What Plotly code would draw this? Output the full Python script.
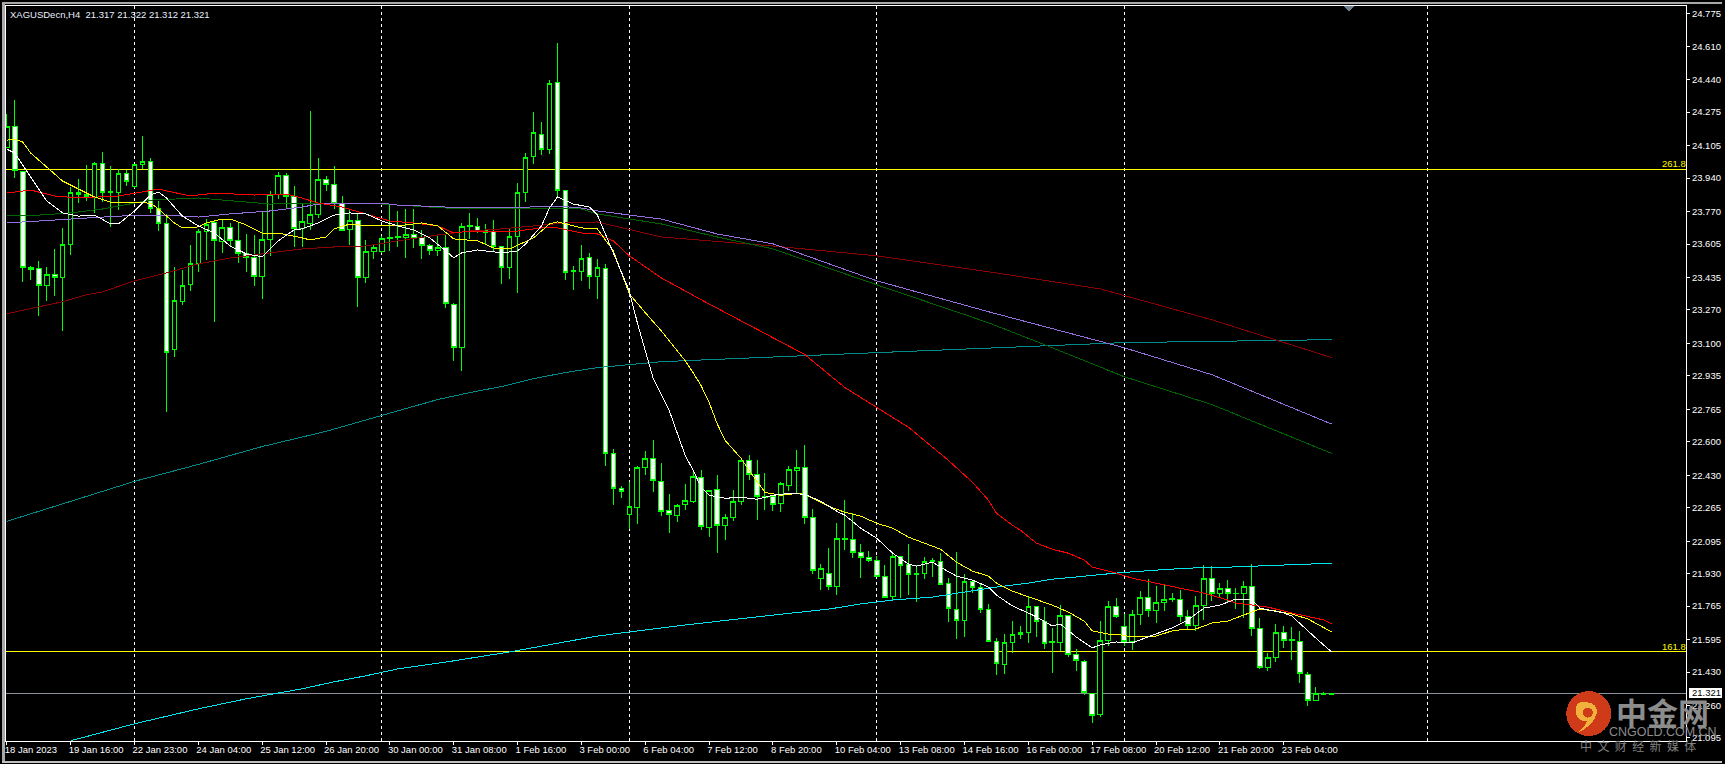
import plotly.graph_objects as go

opens = [24.097,24.202,23.976,23.485,23.482,23.396,23.452,23.435,23.604,23.868,23.859,23.840,24.015,23.874,23.866,23.964,23.896,24.010,24.025,23.787,
23.710,23.067,23.313,23.401,23.506,23.668,23.712,23.617,23.690,23.624,23.558,23.538,23.442,23.629,23.857,23.952,23.847,23.682,23.708,23.756,
23.933,23.908,23.812,23.678,23.726,23.435,23.569,23.567,23.637,23.641,23.637,23.653,23.637,23.597,23.572,23.587,23.300,23.080,23.697,23.695,
23.663,23.670,23.594,23.487,23.645,23.868,24.048,24.162,24.086,24.425,23.878,23.469,23.467,23.538,23.442,23.479,22.540,22.362,22.233,22.264,
22.467,22.514,22.398,22.251,22.223,22.279,22.299,22.418,22.167,22.357,22.173,22.213,22.296,22.504,22.433,22.323,22.322,22.284,22.380,22.456,
22.469,22.215,21.907,21.931,21.863,22.110,22.104,22.038,22.010,21.997,21.916,21.813,22.017,21.977,21.930,21.929,21.996,21.992,21.881,21.749,
21.691,21.891,21.860,21.749,21.587,21.470,21.582,21.620,21.630,21.764,21.688,21.583,21.580,21.718,21.521,21.485,21.321,21.214,21.590,21.764,
21.663,21.585,21.721,21.810,21.742,21.782,21.804,21.799,21.711,21.666,21.769,21.906,21.828,21.855,21.831,21.828,21.865,21.652,21.453,21.503,
21.632,21.593,21.587,21.419,21.285,21.320,21.317]
closes = [24.204,23.979,23.485,23.478,23.396,23.452,23.435,23.604,23.868,23.855,23.849,24.015,23.866,23.869,23.964,23.921,24.010,24.026,23.787,23.710,
23.055,23.317,23.396,23.508,23.670,23.705,23.622,23.690,23.624,23.558,23.538,23.442,23.629,23.857,23.952,23.847,23.685,23.722,23.756,23.933,
23.908,23.810,23.675,23.726,23.437,23.569,23.589,23.634,23.631,23.636,23.653,23.634,23.599,23.572,23.587,23.305,23.077,23.695,23.692,23.670,
23.675,23.592,23.487,23.645,23.868,24.045,24.172,24.086,24.420,23.878,23.462,23.464,23.533,23.442,23.487,22.540,22.362,22.347,22.271,22.469,
22.514,22.403,22.246,22.230,22.276,22.301,22.423,22.170,22.352,22.173,22.215,22.296,22.504,22.436,22.320,22.318,22.279,22.387,22.458,22.469,
22.213,21.948,21.958,21.863,22.109,22.105,22.036,22.010,21.995,21.914,21.810,22.017,21.970,21.924,21.925,21.992,21.991,21.877,21.752,21.691,
21.891,21.858,21.749,21.585,21.475,21.582,21.622,21.632,21.764,21.686,21.576,21.578,21.718,21.519,21.490,21.326,21.211,21.592,21.764,21.710,
21.585,21.721,21.810,21.742,21.784,21.799,21.798,21.711,21.666,21.769,21.906,21.828,21.855,21.828,21.828,21.865,21.652,21.453,21.505,21.632,
21.592,21.588,21.422,21.285,21.323,21.318,21.321]
highs = [24.264,24.339,23.976,23.494,23.519,23.489,23.582,23.687,23.895,23.935,24.006,24.021,24.072,24.001,23.986,23.981,24.011,24.153,24.041,23.824,
23.758,23.489,23.475,23.600,23.683,23.732,23.722,23.732,23.712,23.713,23.656,23.651,23.769,23.874,23.970,23.965,23.899,23.815,24.283,24.041,
23.950,24.001,23.849,23.783,23.764,23.624,23.604,23.646,23.803,23.773,23.783,23.783,23.677,23.605,23.651,23.655,23.303,23.712,23.763,23.736,
23.705,23.726,23.595,23.688,23.913,24.070,24.275,24.224,24.440,24.629,23.879,23.493,23.600,23.560,23.528,23.504,22.565,22.374,22.394,22.475,
22.551,22.611,22.494,22.337,22.283,22.384,22.455,22.455,22.353,22.430,22.235,22.353,22.516,22.531,22.506,22.443,22.328,22.394,22.475,22.556,
22.585,22.261,21.978,22.059,22.188,22.303,22.238,22.080,22.044,22.019,21.973,22.034,22.019,22.080,21.973,22.014,22.009,22.034,21.906,22.039,
21.928,21.892,21.877,21.776,21.602,21.624,21.689,21.664,21.809,21.765,21.759,21.652,21.771,21.720,21.546,21.492,21.325,21.689,21.789,21.806,
21.723,21.745,21.842,21.901,21.867,21.872,21.833,21.846,21.745,21.816,21.973,21.968,21.884,21.897,21.857,21.892,21.978,21.703,21.529,21.673,
21.664,21.661,21.639,21.429,21.355,21.330,21.322]
lows = [24.097,23.942,23.413,23.423,23.241,23.317,23.342,23.161,23.551,23.815,23.824,23.764,23.820,23.693,23.778,23.899,23.889,23.986,23.764,23.671,
22.750,23.029,23.296,23.367,23.465,23.523,23.207,23.560,23.595,23.511,23.465,23.393,23.325,23.545,23.834,23.788,23.592,23.590,23.675,23.739,
23.874,23.781,23.671,23.600,23.286,23.409,23.531,23.560,23.570,23.590,23.536,23.587,23.531,23.550,23.545,23.281,23.012,22.962,23.632,23.663,
23.604,23.570,23.404,23.428,23.354,23.820,24.013,24.057,24.063,23.840,23.423,23.372,23.418,23.379,23.328,22.475,22.277,22.314,22.159,22.181,
22.430,22.345,22.222,22.137,22.191,22.252,22.289,22.151,22.117,22.036,22.100,22.198,22.277,22.404,22.201,22.252,22.247,22.242,22.348,22.337,
22.181,21.928,21.847,21.847,21.821,22.049,22.012,21.909,21.987,21.912,21.806,21.796,21.805,21.821,21.787,21.902,21.914,21.872,21.686,21.598,
21.610,21.833,21.731,21.583,21.416,21.421,21.529,21.600,21.580,21.610,21.549,21.427,21.537,21.508,21.436,21.311,21.171,21.204,21.563,21.706,
21.563,21.542,21.669,21.711,21.681,21.740,21.787,21.686,21.644,21.639,21.695,21.792,21.805,21.787,21.752,21.706,21.615,21.446,21.436,21.483,
21.554,21.492,21.374,21.255,21.284,21.316,21.312]

white_x = [0,1,3,5,7,9,11,13,14,16,18,19,20,22,24,26,28,30,32,34,36,37,39,41,43,45,47,49,51,53,55,56,57,59,62,64,65,67,68,69,71,73,74,76,78,79,81,83,85,86,87,88,90,92,94,96,98,100,102,104,105,107,109,111,113,114,116,117,119,121,123,124,126,128,129,131,132,134,136,137,139,141,143,146,148,150,152,154,156,157,160,161,164,166]
white_y = [24.087,24.067,23.945,23.824,23.763,23.747,23.752,23.707,23.707,23.773,23.854,23.869,23.839,23.747,23.697,23.661,23.595,23.555,23.540,23.621,23.677,23.682,23.712,23.752,23.763,23.758,23.722,23.697,23.677,23.636,23.570,23.535,23.560,23.575,23.560,23.570,23.605,23.697,23.788,23.844,23.808,23.793,23.752,23.555,23.367,23.205,22.921,22.759,22.531,22.455,22.369,22.328,22.313,22.318,22.308,22.328,22.338,22.333,22.298,22.247,22.227,22.161,22.110,22.034,21.978,21.968,21.988,21.963,21.917,21.897,21.862,21.821,21.766,21.730,21.710,21.664,21.674,21.608,21.553,21.568,21.583,21.578,21.608,21.654,21.695,21.755,21.770,21.801,21.796,21.755,21.730,21.715,21.603,21.532]

yellow_x = [0,1,2,3,5,7,9,11,13,16,18,19,21,22,24,25,27,28,30,32,34,37,38,40,41,43,45,49,52,54,55,56,59,61,63,66,68,69,72,74,76,78,80,82,84,85,86,87,88,89,90,92,93,95,97,99,100,103,105,107,109,111,113,115,117,119,121,123,124,126,128,129,131,133,135,136,138,139,141,144,146,147,149,151,153,155,157,159,161,163,165,166]
yellow_y = [24.133,24.138,24.123,24.067,23.996,23.925,23.884,23.844,23.818,23.813,23.813,23.783,23.712,23.687,23.692,23.712,23.732,23.732,23.702,23.661,23.661,23.636,23.626,23.641,23.682,23.707,23.697,23.697,23.712,23.697,23.666,23.631,23.621,23.585,23.580,23.636,23.707,23.717,23.687,23.682,23.570,23.352,23.256,23.164,23.063,23.012,22.951,22.885,22.800,22.693,22.607,22.516,22.455,22.343,22.328,22.338,22.333,22.272,22.242,22.222,22.186,22.161,22.115,22.085,22.054,21.988,21.943,21.917,21.882,21.841,21.811,21.796,21.770,21.735,21.689,21.639,21.623,21.623,21.608,21.613,21.639,21.644,21.649,21.679,21.689,21.720,21.750,21.740,21.725,21.700,21.654,21.634]

red_x = [0,3,6,9,14,18,19,23,26,31,35,37,39,42,45,48,51,54,56,58,64,67,69,72,74,76,78,82,87,93,100,105,109,113,118,121,123,124,126,127,129,131,133,135,136,139,141,144,147,150,153,154,158,161,165,166]
red_y = [23.864,23.879,23.849,23.839,23.849,23.879,23.884,23.849,23.864,23.854,23.859,23.839,23.813,23.793,23.758,23.722,23.712,23.697,23.661,23.671,23.671,23.687,23.687,23.661,23.656,23.621,23.545,23.433,23.322,23.195,23.043,22.876,22.774,22.673,22.505,22.394,22.303,22.237,22.176,22.151,22.085,22.054,22.034,21.999,21.963,21.933,21.907,21.882,21.857,21.831,21.796,21.781,21.760,21.730,21.695,21.674]

green_x = [0,4,8,12,16,18,24,28,33,37,45,49,55,62,66,70,72,74,82,89,96,109,123,130,140,151,158,166]
green_y = [23.752,23.752,23.763,23.783,23.813,23.828,23.839,23.824,23.808,23.813,23.813,23.803,23.788,23.783,23.783,23.788,23.783,23.758,23.707,23.641,23.580,23.398,23.205,23.094,22.931,22.789,22.673,22.541]

purple_x = [0,4,8,14,20,24,28,33,37,39,42,47,49,55,62,66,69,72,74,82,89,96,109,123,140,151,158,166]
purple_y = [23.712,23.722,23.732,23.747,23.752,23.742,23.758,23.773,23.793,23.808,23.813,23.813,23.803,23.793,23.788,23.793,23.798,23.788,23.773,23.732,23.656,23.606,23.418,23.261,23.078,22.941,22.825,22.690]

maroon_x = [0,4,7,10,12,16,20,24,28,33,37,41,45,49,54,58,62,66,70,74,82,96,109,123,137,151,166]
maroon_y = [23.251,23.286,23.312,23.347,23.362,23.418,23.458,23.504,23.534,23.560,23.580,23.590,23.595,23.621,23.651,23.671,23.682,23.697,23.712,23.717,23.641,23.595,23.545,23.464,23.377,23.220,23.028]

teal_x = [0,8,16,24,32,40,47,54,58,62,66,70,74,79,82,109,140,166]
teal_y = [22.196,22.298,22.399,22.485,22.576,22.653,22.734,22.815,22.850,22.881,22.921,22.952,22.977,22.997,23.007,23.053,23.104,23.119]

cyan_x = [8,16,24,30,37,41,45,49,56,63,74,85,95,103,107,111,116,120,124,128,131,135,139,144,148,153,166]
cyan_y = [21.081,21.167,21.243,21.294,21.345,21.380,21.411,21.446,21.487,21.532,21.613,21.669,21.715,21.750,21.776,21.796,21.811,21.836,21.862,21.882,21.902,21.917,21.933,21.948,21.958,21.963,21.983]

price_ticks = ["24.775","24.610","24.440","24.275","24.105","23.940","23.770","23.605","23.435","23.270","23.100","22.935","22.765","22.600","22.430","22.265","22.095","21.930","21.765","21.595","21.430","21.260","21.095"]
date_ticks = ["18 Jan 2023","19 Jan 16:00","22 Jan 23:00","24 Jan 04:00","25 Jan 12:00","26 Jan 20:00","30 Jan 00:00","31 Jan 08:00","1 Feb 16:00","3 Feb 00:00","6 Feb 04:00","7 Feb 12:00","8 Feb 20:00","10 Feb 04:00","13 Feb 08:00","14 Feb 16:00","16 Feb 00:00","17 Feb 08:00","20 Feb 12:00","21 Feb 20:00","23 Feb 04:00"]
date_tick_bars = [0,8,16,24,32,40,48,56,64,72,80,88,96,104,112,120,128,136,144,152,160]
separator_bars = [16,47,78,109,140,178]
fib_levels = [("261.8",23.984),("161.8",21.532)]
last_price = 21.321
bars = list(range(len(opens)))

W,H = 1725,764
L,R,T,B = 4.5,1688.5,4.5,741.5
fx = lambda p:(p-L)/(R-L)
fy = lambda p:(B-p)/(B-T)
FONT = "Liberation Sans"

fig = go.Figure()
for name,xs,ys,col,w in [("MA teal",teal_x,teal_y,"#008b8b",1),("MA maroon",maroon_x,maroon_y,"#8b0000",1),
                         ("MA green",green_x,green_y,"#006400",1),("MA purple",purple_x,purple_y,"#9370db",1),
                         ("MA cyan",cyan_x,cyan_y,"#00e5ee",1),("MA red",red_x,red_y,"#ff0000",1),
                         ("MA yellow",yellow_x,yellow_y,"#ffff00",1),("MA white",white_x,white_y,"#ffffff",1)]:
    fig.add_trace(go.Scatter(x=xs,y=ys,mode="lines",name=name,line=dict(color=col,width=w),hoverinfo="skip"))
fig.add_trace(go.Candlestick(x=bars,open=opens,high=highs,low=lows,close=closes,name="XAGUSDecn,H4",whiskerwidth=0,
    increasing=dict(line=dict(color="#00ff00",width=1),fillcolor="#000000"),
    decreasing=dict(line=dict(color="#00ff00",width=1),fillcolor="#ffffff")))

shapes=[]
for k in separator_bars:
    shapes.append(dict(type="line",xref="x",yref="paper",x0=k,x1=k,y0=0,y1=1,layer="below",line=dict(color="#ffffff",width=1,dash="3px,3px")))
for _,v in fib_levels:
    shapes.append(dict(type="line",xref="paper",yref="y",x0=0,x1=1,y0=v,y1=v,layer="below",line=dict(color="#ffff00",width=1)))
shapes.append(dict(type="line",xref="paper",yref="y",x0=0,x1=1,y0=last_price,y1=last_price,layer="below",line=dict(color="#8a9099",width=1)))

def rect(x0,y0,x1,y1,c):
    return dict(type="rect",xref="paper",yref="paper",x0=fx(x0),x1=fx(x1),y0=fy(y0),y1=fy(y1),fillcolor=c,line=dict(width=0),layer="above")
shapes += [rect(0,0,3,764,"#a8a8a8"),rect(0,0,1725,2,"#a8a8a8"),rect(0,762,1725,764,"#c0c0c0"),rect(1692,688,1725,698,"#ffffff")]
def path(pts,fill):
    s=""
    for cmd,*c in pts:
        s+=cmd+" "+" ".join(f"{fx(c[i]):.5f},{fy(c[i+1]):.5f}" for i in range(0,len(c),2))+" "
    return dict(type="path",xref="paper",yref="paper",path=s+"Z",fillcolor=fill,line=dict(width=0),layer="above")
# expiry marker
shapes.append(path([("M",1346,5),("L",1355.5,5),("L",1350.7,10)],"#708090"))
# watermark logo
shapes.append(dict(type="circle",xref="paper",yref="paper",x0=fx(1568.5),x1=fx(1613.5),y0=fy(691.5),y1=fy(736.5),fillcolor="#cf3a18",line=dict(width=0),layer="above"))
shapes.append(path([("M",1578,711),("C",1577,704,1584,700,1589,703),("C",1596,702,1600,708,1599,714),("C",1597,722,1590,729,1580,733),
                    ("C",1585,729,1588,725,1590,721),("C",1584,723,1578,719,1578,711)],"#f0b23c"))
shapes.append(dict(type="circle",xref="paper",yref="paper",x0=fx(1585),x1=fx(1595),y0=fy(708),y1=fy(718),fillcolor="#cf3a18",line=dict(width=0),layer="above"))

def note(text,px,py,size,color,anchor="left",**kw):
    return dict(text=text,xref="paper",yref="paper",x=fx(px),y=fy(py),xanchor=anchor,yanchor="middle",showarrow=False,
                font=dict(family=kw.pop("family",FONT),size=size,color=color),**kw)
anns=[note("XAGUSDecn,H4&nbsp;&nbsp;21.317 21.322 21.312 21.321",6.5,12.7,9.5,"#e8f0ff"),
      note("261.8",1690.5,162.5,9.5,"#ffff00","right"),
      note("161.8",1690.5,646.5,9.5,"#ffff00","right"),
      note("21.321",1694,693,9.5,"#000000","left",borderpad=0),
      note("<b>中金网</b>",1665,712,31,"#8c8c8c","center",family="Noto Sans CJK SC"),
      note("CNGOLD.COM.CN",1665,732.5,12.5,"#8c8c8c","center"),
      note("中&nbsp;&nbsp;文&nbsp;&nbsp;财&nbsp;&nbsp;经&nbsp;&nbsp;新&nbsp;&nbsp;媒&nbsp;&nbsp;体",1640,746,12,"#808080","center",family="Noto Sans CJK SC")]

fig.update_layout(width=W,height=H,autosize=False,paper_bgcolor="#000000",plot_bgcolor="#000000",showlegend=False,
    margin=dict(l=L,r=W-R,t=T,b=H-B,pad=0),boxgap=0.42,boxgroupgap=0,shapes=shapes,annotations=anns,hovermode=False,
    font=dict(family=FONT,size=9.5,color="#ffffff"),
    xaxis=dict(range=[-0.1,210.4],rangeslider=dict(visible=False),tickmode="array",tickvals=date_tick_bars,ticktext=date_ticks,
        ticklabelposition="outside right",ticklabelshift=-3,tickangle=0,ticks="outside",ticklen=3,tickcolor="#ffffff",tickfont=dict(family=FONT,size=9.5,color="#ffffff"),
        showgrid=False,zeroline=False,showline=True,linecolor="#ffffff",linewidth=1,mirror=True,fixedrange=True),
    yaxis=dict(range=[21.0796,24.8145],side="right",tickmode="array",tickvals=[float(t) for t in price_ticks],ticktext=price_ticks,
        ticks="outside",ticklen=3,tickcolor="#ffffff",tickfont=dict(family=FONT,size=9.5,color="#ffffff"),
        showgrid=False,zeroline=False,showline=True,linecolor="#ffffff",linewidth=1,mirror=True,fixedrange=True))

css = ".scatterlayer path,.boxlayer path,.shapelayer path{shape-rendering:crispEdges}"
fig.write_html("out.html",config=dict(displayModeBar=False),
               post_script="document.body.style.margin='0';document.body.style.background='#000';document.body.style.overflow='hidden';"
                           "var s=document.createElement('style');s.textContent='"+css+"';document.head.appendChild(s);")
